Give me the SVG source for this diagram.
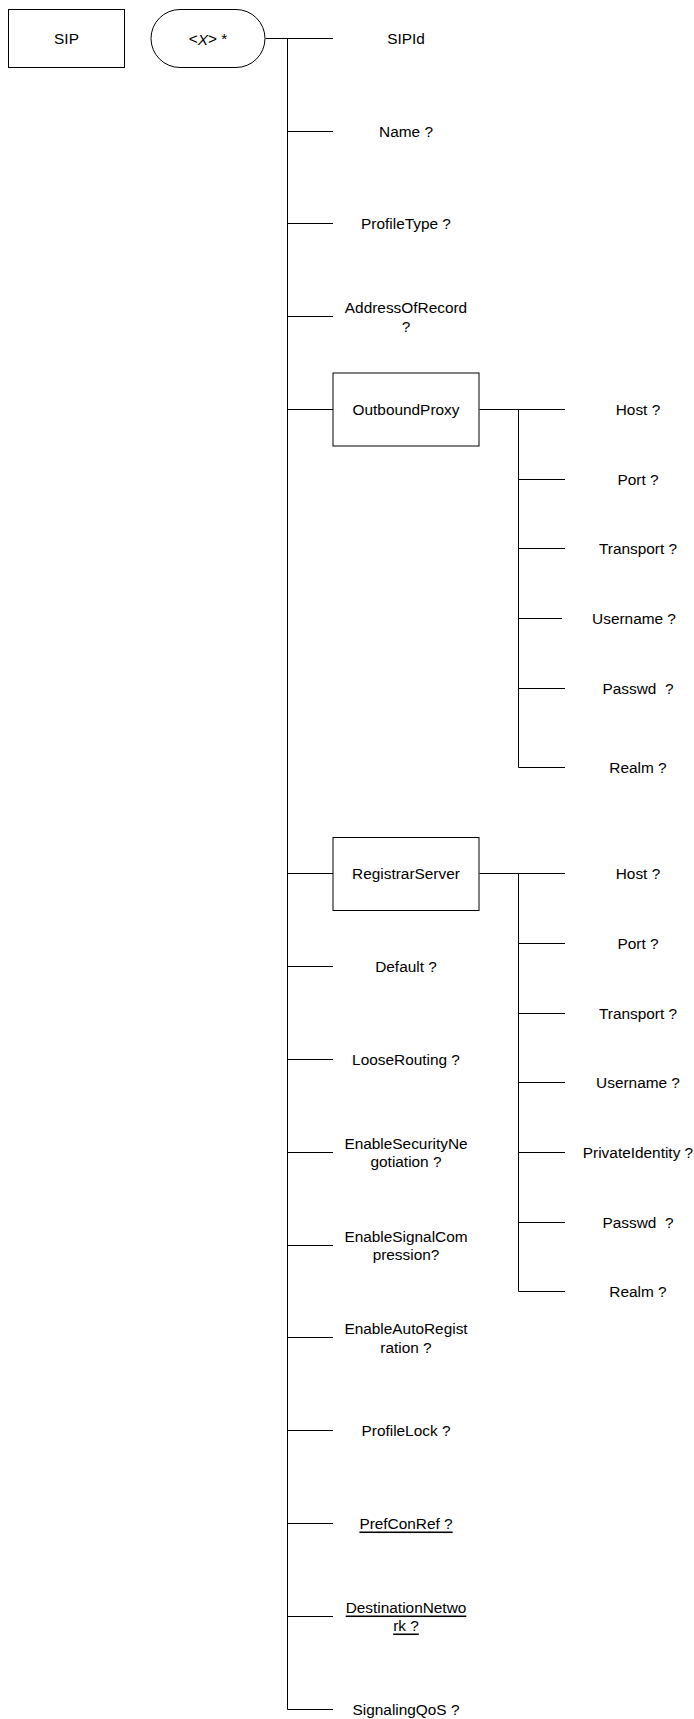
<svg xmlns="http://www.w3.org/2000/svg" width="694" height="1719" viewBox="0 0 694 1719">
<style>
.b{fill:#fff;stroke:#000;stroke-width:1}
.t{font-family:"Liberation Sans",Arial,sans-serif;font-size:15.4px;fill:#000;text-anchor:middle;dominant-baseline:central;white-space:pre}
.u{text-decoration:underline}
.c{stroke:#000;stroke-width:1;fill:none}
</style>
<rect width="694" height="1719" fill="#fff"/>
<g id="connectors">
<path class="c" d="M265.5 38.5H333 M287.5 38.5V1709.5 M287.5 131.5H333 M287.5 223.5H333 M287.5 316.5H333 M287.5 409.5H333 M287.5 873.5H333 M287.5 966.5H333 M287.5 1059.5H333 M287.5 1152.5H333 M287.5 1245.5H333 M287.5 1337.5H333 M287.5 1430.5H333 M287.5 1523.5H333 M287.5 1616.5H333 M287.5 1709.5H333"/>
<path class="c" d="M479.5 409.5H565 M518.5 409.5V767.5 M518.5 479.5H565 M518.5 548.5H565 M518.5 618.5H562 M518.5 688.5H565 M518.5 767.5H565"/>
<path class="c" d="M479.5 873.5H565 M518.5 873.5V1291.5 M518.5 943.5H565 M518.5 1013.5H565 M518.5 1082.5H565 M518.5 1152.5H565 M518.5 1222.5H565 M518.5 1291.5H565"/>
</g>
<g id="SIP"><rect class="b" x="8.5" y="9.5" width="116" height="58"/><text class="t" x="66.5" y="38.5">SIP</text></g>
<g id="X"><rect class="b" x="151" y="9.5" width="114" height="58" rx="29" ry="29"/><text class="t" x="208" y="38.5">&lt;<tspan font-style="italic">X</tspan>&gt; *</text></g>
<g id="SIPId"><text class="t" x="406" y="38.5">SIPId</text></g>
<g id="Name"><text class="t" x="406" y="131">Name ?</text></g>
<g id="ProfileType"><text class="t" x="406" y="223.5">ProfileType ?</text></g>
<g id="AddressOfRecord"><text class="t" x="406" y="307.5">AddressOfRecord</text><text class="t" x="406" y="326">?</text></g>
<g id="OutboundProxy"><rect class="b" x="333" y="373" width="146" height="73"/><text class="t" x="406" y="409.5">OutboundProxy</text></g>
<g id="OP_Host"><text class="t" x="638" y="409.5">Host ?</text></g>
<g id="OP_Port"><text class="t" x="638" y="479">Port ?</text></g>
<g id="OP_Transport"><text class="t" x="638" y="548.5">Transport ?</text></g>
<g id="OP_Username"><text class="t" x="634" y="618">Username ?</text></g>
<g id="OP_Passwd"><text class="t" x="638" y="688">Passwd  ?</text></g>
<g id="OP_Realm"><text class="t" x="638" y="767">Realm ?</text></g>
<g id="RegistrarServer"><rect class="b" x="333" y="837.5" width="146" height="73"/><text class="t" x="406" y="873.5">RegistrarServer</text></g>
<g id="RS_Host"><text class="t" x="638" y="873.5">Host ?</text></g>
<g id="RS_Port"><text class="t" x="638" y="943">Port ?</text></g>
<g id="RS_Transport"><text class="t" x="638" y="1013">Transport ?</text></g>
<g id="RS_Username"><text class="t" x="638" y="1082.5">Username ?</text></g>
<g id="RS_PrivateIdentity"><text class="t" x="638" y="1152.5">PrivateIdentity ?</text></g>
<g id="RS_Passwd"><text class="t" x="638" y="1222">Passwd  ?</text></g>
<g id="RS_Realm"><text class="t" x="638" y="1291.5">Realm ?</text></g>
<g id="Default"><text class="t" x="406" y="966.5">Default ?</text></g>
<g id="LooseRouting"><text class="t" x="406" y="1059">LooseRouting ?</text></g>
<g id="EnableSecurityNegotiation"><text class="t" x="406" y="1143">EnableSecurityNe</text><text class="t" x="406" y="1161">gotiation ?</text></g>
<g id="EnableSignalCompression"><text class="t" x="406" y="1236">EnableSignalCom</text><text class="t" x="406" y="1254">pression?</text></g>
<g id="EnableAutoRegistration"><text class="t" x="406" y="1328">EnableAutoRegist</text><text class="t" x="406" y="1347">ration ?</text></g>
<g id="ProfileLock"><text class="t" x="406" y="1430.5">ProfileLock ?</text></g>
<g id="PrefConRef"><text class="t u" x="406" y="1523">PrefConRef ?</text></g>
<g id="DestinationNetwork"><text class="t u" x="406" y="1607">DestinationNetwo</text><text class="t u" x="406" y="1625">rk ?</text></g>
<g id="SignalingQoS"><text class="t" x="406" y="1709">SignalingQoS ?</text></g>
</svg>
